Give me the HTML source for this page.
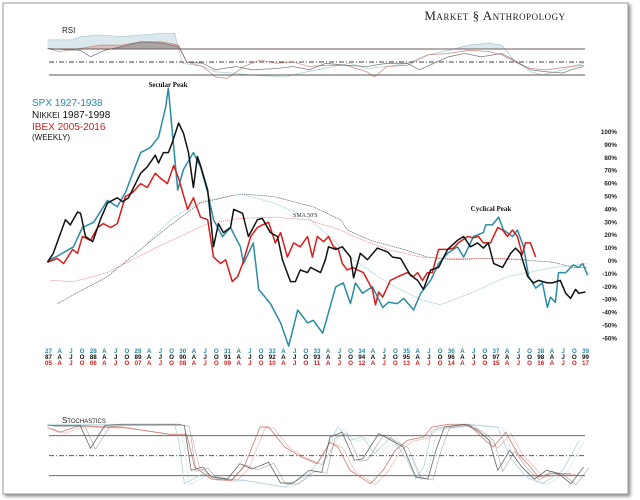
<!DOCTYPE html>
<html><head><meta charset="utf-8"><style>
html,body{margin:0;padding:0;background:#fff;}
svg{display:block;font-family:"Liberation Sans",sans-serif;}
</style></head><body>
<svg id="chart" width="640" height="500" viewBox="0 0 640 500">
  <defs>
    <filter id="sh" x="-5%" y="-5%" width="110%" height="110%"><feDropShadow dx="2" dy="2" stdDeviation="1.5" flood-color="#000" flood-opacity="0.45"/></filter>
    <clipPath id="rsiTop"><rect x="0" y="0" width="640" height="49"/></clipPath>
  </defs>
  <rect x="3" y="3" width="625" height="491" fill="#fff" stroke="#9a9a9a" stroke-width="1" filter="url(#sh)"/>
  <text x="495" y="20" text-anchor="middle" font-family="Liberation Serif,serif" font-size="13" style="font-variant:small-caps" letter-spacing="0.5" fill="#222">Market § Anthropology</text>
  <text x="62" y="33" font-size="8" fill="#222">RSI</text>
  <text x="62" y="423" font-size="8" fill="#222" style="font-variant:small-caps">Stochastics</text>
  <g>
    <text x="32" y="106" font-size="10" fill="#2a8ca2">SPX 1927-1938</text>
    <text x="32" y="118" font-size="10" fill="#111">N<tspan font-size="8">IKKEI</tspan> 1987-1998</text>
    <text x="32" y="130" font-size="10" fill="#d81c1c">IBEX 2005-2016</text>
    <text x="32" y="140" font-size="8" fill="#111">(WEEKLY)</text>
  </g>
  <text x="168" y="87" text-anchor="middle" font-family="Liberation Serif,serif" font-weight="bold" font-size="7" fill="#111">Secular Peak</text>
  <text x="491" y="211" text-anchor="middle" font-family="Liberation Serif,serif" font-weight="bold" font-size="7" fill="#111">Cyclical Peak</text>
  <text x="293" y="217" font-family="Liberation Serif,serif" font-size="6" fill="#333">SMA 50'S</text>
  <g id="g"></g>
</svg>
<script>
// ---- main chart data (t = years from start, v = % change) ----
const tSPX=[0,.18,.58,.78,1.03,1.34,1.56,1.74,1.85,2.08,2.30,2.48,2.64,2.70,2.91,3.04,3.26,3.42,3.58,3.71,3.91,4.09,4.31,4.38,4.60,4.72,4.98,5.21,5.39,5.59,5.81,5.94,6.15,6.44,6.61,6.77,6.88,7.04,7.26,7.49,7.62,7.82,7.96,8.18,8.34,8.56,8.74,8.94,9.16,9.30,9.52,9.74,9.79,9.94,10.08,10.19,10.39,10.50,10.64,10.75,10.91,11.06,11.17,11.24,11.35,11.42,11.58,11.75,11.87,11.96,12.07];
const vSPX=[0,3,11,26,30,47,42,53,63,84,88,96,119,134,55,71,84,73,53,32,19,26,11,-2,14,-22,-33,-48,-66,-38,-48,-46,-56,-20,-17,-33,-17,-25,-20,-36,-32,-33,-29,-38,-25,-15,-2,6,11,3,19,22,28,28,34,24,19,24,11,-12,-21,-17,-36,-28,-32,-9,-9,-3,-5,-2,-11];
const tNKY=[0,.13,.40,.51,.67,.74,.85,1.01,1.18,1.34,1.56,1.68,1.81,2.08,2.23,2.41,2.48,2.59,2.70,2.79,2.93,3.04,3.15,3.26,3.35,3.42,3.58,3.71,3.82,3.93,4.09,4.16,4.36,4.49,4.69,4.80,4.98,5.14,5.25,5.43,5.54,5.65,5.81,5.88,6.10,6.21,6.28,6.44,6.59,6.77,6.84,6.99,7.15,7.37,7.60,7.71,7.89,8.11,8.27,8.40,8.56,8.74,8.94,9.16,9.30,9.45,9.61,9.74,9.85,9.97,10.17,10.35,10.46,10.57,10.73,10.86,10.97,11.17,11.28,11.46,11.58,11.69,11.80,11.87,12.02];
const vNKY=[-1,6,32,28,38,37,19,15,32,45,49,46,49,68,73,82,76,84,84,92,107,99,84,57,81,74,55,11,29,22,26,40,37,19,32,33,22,19,1,-16,-16,-7,-9,-5,-9,1,11,9,11,3,-13,6,1,10,7,3,2,-11,-15,-22,-7,-5,9,16,19,11,14,10,14,-2,-5,6,10,6,-12,-17,-15,-17,-17,-15,-25,-29,-22,-25,-24];
const tIBX=[0,.22,.36,.56,.67,.78,.96,1.12,1.25,1.41,1.56,1.74,1.90,2.08,2.23,2.41,2.53,2.68,2.82,2.93,3.13,3.26,3.42,3.58,3.71,3.87,3.98,4.13,4.25,4.36,4.54,4.69,4.80,4.94,5.09,5.21,5.36,5.50,5.65,5.81,5.92,6.03,6.17,6.28,6.39,6.50,6.59,6.70,6.82,6.93,7.06,7.26,7.33,7.40,7.49,7.66,7.84,8.04,8.18,8.27,8.38,8.49,8.60,8.74,8.94,9.07,9.18,9.39,9.52,9.63,9.74,9.90,10.06,10.17,10.28,10.39,10.50,10.61,10.68,10.79,10.91];
const vIBX=[-1,2,-2,9,6,19,16,26,29,26,29,50,53,60,57,68,64,60,74,64,40,49,34,32,3,-2,1,-16,-12,-2,19,26,28,30,14,22,3,14,11,19,3,19,15,19,11,9,-2,-7,-5,-7,-9,-22,-34,-24,-28,-15,-12,-9,-12,-9,-15,-9,-9,9,9,10,14,19,18,19,14,14,26,24,19,24,19,5,14,14,3];
const tSMAg=[.22,1.34,2.68,3.42,4.31,5.05,5.94,6.55,6.70,7.22,7.96,8.49,9.07,9.83,10.57,11.30,11.75,12.06];
const vSMAg=[-33,-12,26,45,52,50,42,32,24,16,9,3,1,2,1,-1,-5,-5];
const tSMAt=[2.23,2.82,3.42,4.31,5.05,5.81,6.39,6.84,7.60,8.34,8.78,9.45,10.28,10.73,11.30,12.06];
const vSMAt=[14,34,46,52,45,34,16,1,-17,-30,-34,-25,-12,-9,-5,-2];
const tSMAr=[.07,.58,1.34,2.46,3.58,4.31,5.05,5.81,6.55,6.84,7.60,8.34,9.07,10.19,10.73];
const vSMAr=[-15,-16,-9,11,29,33,34,32,24,19,9,3,2,2,1];
const yTicks=[100,90,80,70,60,50,40,30,20,10,0,-10,-20,-30,-40,-50,-60];
const yrSPX=["27","28","29","30","31","32","33","34","35","36","37","38","39"];
const yrNKY=["87","88","89","90","91","92","93","94","95","96","97","98","99"];
const yrIBX=["05","06","07","08","09","10","11","12","13","14","15","16","17"];
const qLabels=["A","J","O"];
// ---- RSI data ----
const tRsiK=[0,.27,.73,.96,1.28,1.65,2.10,2.56,2.93,3.11,3.47,3.75,4.21,4.57,5.12,5.49,5.85,6.22,6.67,7.13,7.58,8.04,8.31,8.96,9.32,9.69,10.15,10.42,10.79,11.15,11.52,11.70,11.98];
const vRsiK=[71,69.5,68,58,68,73.5,81,79,73.5,50,48,38,43,38,40,43,38,48,45,43,48,48,38,58,63,58,63,53,38,35,33,38,43];
const tRsiR=[0,.27,.73,1.19,1.65,2.10,2.56,2.93,3.11,3.47,3.75,4.02,4.39,4.75,5.12,5.49,5.85,6.22,6.67,7.13,7.31,7.58,8.04,8.50,8.96,9.41,9.87,10.15,10.51,10.79,11.15,11.70,11.98];
const vRsiR=[71,66,71,76,76,81,81,76,50,43,27,25,43,53,48,50,43,45,45,35,27,43,45,61,63,68,66,61,48,40,38,43,45];
const tRsiT=[0,.55,.73,1.19,1.65,2.10,2.56,2.84,3.02,3.47,3.75,4.11,4.57,5.30,5.67,6.03,6.40,6.76,7.13,7.58,8.04,8.50,8.96,9.41,9.87,10.15,10.42,10.79,11.06,11.52,11.70,11.98];
const vRsiT=[84,84,89,91.5,89,91.5,94,94,48,43,35,33,30,27,33,38,43,48,40,43,48,61,68,76,79,76,53,35,30,38,43,48];
// ---- Stochastics data ----
const tStK=[0,.73,.96,1.28,1.65,2.93,3.06,3.21,3.47,3.66,4.02,4.30,4.57,4.94,5.21,5.49,5.85,6.13,6.31,6.58,6.86,7.04,7.40,7.68,7.95,8.23,8.50,8.68,8.87,9.32,9.60,9.87,10.06,10.33,10.60,10.88,11.15,11.42,11.70,11.98];
const vStK=[95,95,61,95,97,97,95,28,33,18,15,38,30,40,9,9,28,25,78,85,43,45,83,73,63,18,15,58,93,97,88,73,28,58,33,15,28,23,8,33];
const tStR=[0,.27,.73,1.28,1.65,2.74,3.11,3.29,3.66,4.11,4.39,4.75,4.94,5.30,5.67,6.03,6.31,6.49,6.76,7.22,7.50,7.77,8.04,8.41,8.59,8.96,9.41,9.78,9.96,10.24,10.51,10.79,10.97,11.24,11.70];
const vStR=[92,85,95,93,93,82,82,33,15,13,33,93,93,63,48,38,70,63,28,8,28,58,73,78,93,97,97,73,63,85,53,33,18,23,23];
const tStT=[0,2.84,2.93,3.06,3.47,4.02,4.39,5.30,5.85,6.22,6.49,6.76,7.04,7.31,7.68,8.04,8.23,8.41,8.59,9.41,10.06,10.33,10.70,11.06,11.52,11.88];
const vStT=[97,97,73,8,23,15,13,3,23,58,93,73,78,53,78,43,15,33,88,97,93,48,18,8,28,73];

const NS="http://www.w3.org/2000/svg";
const g=document.getElementById('g');
const X0=47.5, XS=44.75;
const xS=t=>X0+t*XS;
const yMain=v=>261-v*1.29;
const yRsi=v=>62-(v-50)*0.65;
const yStoch=v=>489-v*0.667;
function el(tag,attrs,parent){const e=document.createElementNS(NS,tag);for(const k in attrs)e.setAttribute(k,attrs[k]);(parent||g).appendChild(e);return e;}
function pathD(ts,vs,yf){return ts.map((t,i)=>(i?'L':'M')+xS(t).toFixed(1)+','+yf(vs[i]).toFixed(1)).join('');}

// RSI panel
const rsiG=el('g',{});


[[tRsiT,vRsiT,'#cfe2e8','#9cc4cf','rsi-spx'],[tRsiR,vRsiR,'#d9b3ad','#c07a70','rsi-ibex'],[tRsiK,vRsiK,'#9a9a9a','#666','rsi-nikkei']].forEach(s=>{
  const d=pathD(s[0],s[1],yRsi);
  const last=s[0][s[0].length-1];
  const a=el('path',{d:d+'L'+xS(last)+',49L'+xS(0)+',49Z',fill:s[2],'fill-opacity':0.75,'clip-path':'url(#rsiTop)'},rsiG);
  
  
  const l=el('path',{d:d,fill:'none',stroke:s[3],'stroke-width':0.8,'stroke-opacity':0.8},rsiG);
  
  
});
[[70,'none','#6e5a5a'],[50,'5,2,1,2','#444'],[30,'none','#555']].forEach(r=>{
  const ln=el('line',{x1:49,x2:585,y1:yRsi(r[0]),y2:yRsi(r[0]),stroke:r[2],'stroke-width':1,'stroke-dasharray':r[1]},rsiG);
  
  
});

// Main SMA lines
[[tSMAg,vSMAg,'#555','sma-nikkei'],[tSMAt,vSMAt,'#7fb9c6','sma-spx'],[tSMAr,vSMAr,'#e07a7a','sma-ibex']].forEach(s=>{
  const p=el('path',{d:pathD(s[0],s[1],yMain),fill:'none',stroke:s[2],'stroke-width':0.6,'stroke-dasharray':'1.5,0.7'});
  
  
});
// Main series
[[tSPX,vSPX,'#2a8ca2','series-spx'],[tIBX,vIBX,'#d81c1c','series-ibex'],[tNKY,vNKY,'#111','series-nikkei']].forEach(s=>{
  const p=el('path',{d:pathD(s[0],s[1],yMain),fill:'none',stroke:s[2],'stroke-width':1.5,'stroke-linejoin':'round'});
  
  
});
// Y axis labels
yTicks.forEach(v=>{
  const t=el('text',{x:617,y:yMain(v)+2,'text-anchor':'end','font-size':6.3,'font-weight':'bold',fill:'#222'});
  t.textContent=v+'%';
  
  
});
// X axis label rows
[[yrSPX,'#2a8ca2',353],[yrNKY,'#111',359],[yrIBX,'#d81c1c',365]].forEach(row=>{
  row[0].forEach((yr,i)=>{
    const t=el('text',{x:xS(i)+1,y:row[2],'text-anchor':'middle','font-size':6.3,'font-weight':'bold',fill:row[1]});
    t.textContent=yr;
    
    
    if(i<row[0].length-1){
      qLabels.forEach((q,j)=>{
        const u=el('text',{x:xS(i+(j+1)*0.25)+1,y:row[2],'text-anchor':'middle','font-size':6.3,'font-weight':'bold',fill:row[1]});
        u.textContent=q;
        
        
      });
    }
  });
});
// Stochastics panel
const stG=el('g',{});


[[80,'none','#555'],[50,'5,2,1,2','#444'],[20,'none','#555']].forEach(r=>{
  const ln=el('line',{x1:49,x2:585,y1:yStoch(r[0]),y2:yStoch(r[0]),stroke:r[2],'stroke-width':0.9,'stroke-dasharray':r[1]},stG);
  
  
});
[[tStT,vStT,'#a8cdd8','stoch-spx'],[tStR,vStR,'#c06a60','stoch-ibex'],[tStK,vStK,'#555','stoch-nikkei']].forEach(s=>{
  const p=el('path',{d:pathD(s[0],s[1],yStoch),fill:'none',stroke:s[2],'stroke-width':0.9,'stroke-opacity':0.8},stG);
  
  
  const q=el('path',{d:pathD(s[0],s[1],yStoch),fill:'none',stroke:s[2],'stroke-width':0.7,'stroke-opacity':0.45,transform:'translate(5,1)'},stG);
  
  
});
</script>
</body></html>
